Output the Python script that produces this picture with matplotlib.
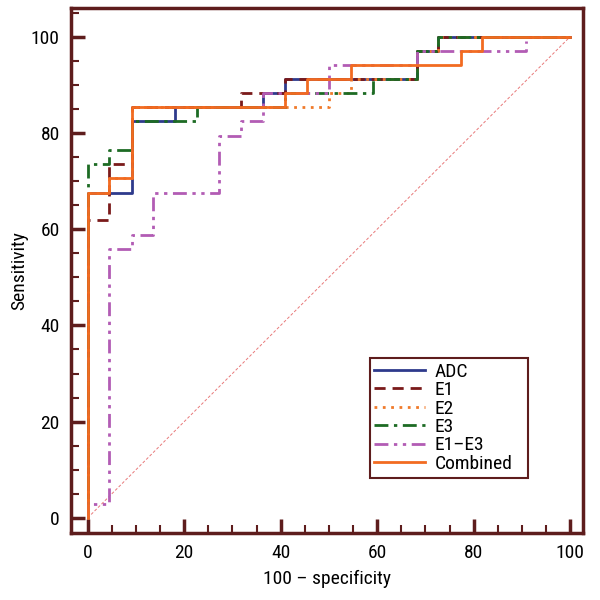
import matplotlib
matplotlib.use('Agg')
import matplotlib.pyplot as plt
from matplotlib.ticker import MultipleLocator
from matplotlib import font_manager

# use a narrow face if one is installed
names = set(f.name for f in font_manager.fontManager.ttflist)
narrow = [n for n in ['Liberation Sans Narrow', 'DejaVu Sans Condensed', 'Roboto Condensed', 'Open Sans Condensed'] if n in names]
plt.rcParams['font.family'] = narrow + ['DejaVu Sans']
plt.rcParams['font.stretch'] = 'condensed'

# step curves (100 - specificity, sensitivity)
adc_x = [0, 0, 9.1, 9.1, 18.2, 18.2, 36.4, 36.4, 40.9, 40.9, 68.2, 68.2, 72.7, 72.7, 100]
adc_y = [0, 67.6, 67.6, 82.4, 82.4, 85.3, 85.3, 88.2, 88.2, 91.2, 91.2, 97.1, 97.1, 100, 100]

e1_x = [0, 0, 4.5, 4.5, 9.1, 9.1, 31.8, 31.8, 40.9, 40.9, 68.2, 68.2, 72.7, 72.7, 100]
e1_y = [0, 61.8, 61.8, 73.5, 73.5, 85.3, 85.3, 88.2, 88.2, 91.2, 91.2, 97.1, 97.1, 100, 100]

e2_x = [0, 0, 4.5, 4.5, 9.1, 9.1, 50, 50, 54.5, 54.5, 68.2, 68.2, 72.7, 72.7, 100]
e2_y = [0, 67.6, 67.6, 70.6, 70.6, 85.3, 85.3, 88.2, 88.2, 91.2, 91.2, 97.1, 97.1, 100, 100]

e3_x = [0, 0, 4.5, 4.5, 9.1, 9.1, 22.7, 22.7, 40.9, 40.9, 59.1, 59.1, 68.2, 68.2, 72.7, 72.7, 100]
e3_y = [0, 73.5, 73.5, 76.5, 76.5, 82.4, 82.4, 85.3, 85.3, 88.2, 88.2, 91.2, 91.2, 97.1, 97.1, 100, 100]

e13_x = [0, 0, 4.5, 4.5, 9.1, 9.1, 13.6, 13.6, 27.3, 27.3, 31.8, 31.8, 36.4, 36.4, 50, 50, 68.2, 68.2, 90.9, 90.9]
e13_y = [0, 2.9, 2.9, 55.9, 55.9, 58.8, 58.8, 67.6, 67.6, 79.4, 79.4, 82.4, 82.4, 88.2, 88.2, 94.1, 94.1, 97.1, 97.1, 99.0]

comb_x = [0, 0, 4.5, 4.5, 9.1, 9.1, 40.9, 40.9, 45.5, 45.5, 54.5, 54.5, 77.3, 77.3, 81.8, 81.8, 100]
comb_y = [0, 67.6, 67.6, 70.6, 70.6, 85.3, 85.3, 88.2, 88.2, 91.2, 91.2, 94.1, 94.1, 97.1, 97.1, 100, 100]

frame = '#5e1d1d'

fig = plt.figure(figsize=(6, 6), dpi=100)
ax = fig.add_axes([0.118, 0.112, 0.854, 0.875])

ax.plot([0, 100], [0, 100], color='#e8797a', lw=0.7, ls=(0, (3, 2)))
ax.plot(adc_x, adc_y, color='#2e3a8c', lw=2, label='ADC')
ax.plot(e1_x, e1_y, color='#7a1a1a', lw=2, ls=(0, (4, 2.5)), label='E1')
ax.plot(e2_x, e2_y, color='#f07a2a', lw=2, ls=(0, (1, 2)), label='E2')
ax.plot(e3_x, e3_y, color='#1d6b24', lw=2, ls=(0, (5, 2, 1.2, 2)), label='E3')
ax.plot(e13_x, e13_y, color='#b25cb4', lw=2, ls=(0, (5, 2, 1.2, 2, 1.2, 2)), label='E1\u2013E3')
ax.plot(comb_x, comb_y, color='#f26b21', lw=2, label='Combined')

ax.set_xlim(-3.5, 102.7)
ax.set_ylim(-3.1, 106)
ax.xaxis.set_major_locator(MultipleLocator(20))
ax.xaxis.set_minor_locator(MultipleLocator(5))
ax.yaxis.set_major_locator(MultipleLocator(20))
ax.yaxis.set_minor_locator(MultipleLocator(5))
ax.tick_params(which='major', direction='in', length=10, width=2.5, color=frame, labelsize=14, pad=8)
ax.tick_params(which='minor', direction='in', length=6, width=1.5, color=frame)
for s in ax.spines.values():
    s.set_color(frame)
    s.set_linewidth(2.5)

ax.set_xlabel('100 \u2013 specificity', fontsize=14, labelpad=6)
ax.set_ylabel('Sensitivity', fontsize=14, labelpad=2)

leg = ax.legend(loc='lower left', bbox_to_anchor=(0.583, 0.105, 0.31, 0.21), mode='expand',
                fontsize=14, fancybox=False, framealpha=1, handlelength=2.6,
                borderpad=0.25, labelspacing=0.02, handletextpad=0.5, borderaxespad=0)
leg.get_frame().set_edgecolor(frame)
leg.get_frame().set_linewidth(1.5)

fig.savefig('out.png', dpi=100)
